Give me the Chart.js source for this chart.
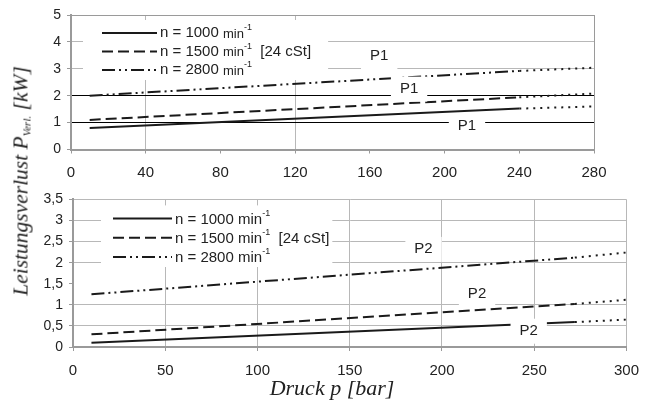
<!DOCTYPE html>
<html lang="de">
<head>
<meta charset="UTF-8">
<title>Leistungsverlust P1 / P2</title>
<script src="https://cdn.jsdelivr.net/npm/chart.js"></script>
<style>
    body { margin: 0; background: #fff; }
    #wrap { position: relative; width: 650px; height: 405px; overflow: hidden; }
    canvas { position: absolute; left: 0; }
    #topChart { top: 0; }
    #botChart { top: 185px; }
    .axis-title {
        position: absolute;
        font-family: 'Liberation Serif', 'DejaVu Serif', serif;
        font-style: italic;
        color: #222;
        white-space: nowrap;
    }
    #yTitle {
        left: 21px; top: 181px;
        font-size: 21.5px;
        transform: translate(-50%, -50%) rotate(-90deg);
    }
    #yTitle sub { font-size: 11px; vertical-align: -3px; }
    #xTitle {
        left: 332px; top: 388px;
        font-size: 22px;
        transform: translate(-50%, -50%);
    }
</style>
</head>
<body>
<div id="wrap">
    <canvas id="topChart" width="650" height="190"></canvas>
    <canvas id="botChart" width="650" height="220"></canvas>
    <div id="yTitle" class="axis-title">Leistungsverlust P<sub>Verl.</sub> [kW]</div>
    <div id="xTitle" class="axis-title">Druck p [bar]</div>
</div>

<script>
// series: last segment of every curve is drawn dotted (extrapolated)
const seriesLabels = ['n = 1000', 'n = 1500', 'n = 2800'];
const speedUnit = 'min';
const oilNote = '[24 cSt]';

// P1 (upper diagram)
const topPressure = [10, 240, 280];
const top1000 = [0.8, 1.52, 1.6];
const top1500 = [1.1, 1.94, 2.08];
const top2800 = [2.0, 2.92, 3.04];
const topLabelX = [165, 181, 212];
const topLabelY = [3.5, 2.3, 0.91];

// P2 (lower diagram)
const botPressure = [10, 272, 300];
const bot1000 = [0.1, 0.59, 0.65];
const bot1500 = [0.3, 1.02, 1.12];
const bot2800 = [1.25, 2.12, 2.24];
const botLabelX = [190, 219, 247];
const botLabelY = [2.35, 1.29, 0.41];

const FONT = "'Liberation Sans', Arial, sans-serif";
const INK = '#1a1a1a';
const GRID = '#b8b8b8';
const FRAME = '#9a9a9a';
const dashes = [[], [11, 5], [13, 4, 2, 4, 2, 4]];

function makeDatasets(pressure, curves) {
    return curves.map((vals, i) => ({
        label: seriesLabels[i],
        data: pressure.map((p, j) => ({ x: p, y: vals[j] })),
        borderColor: INK,
        borderWidth: 2,
        borderDash: dashes[i],
        borderCapStyle: 'butt',
        pointRadius: 0,
        tension: 0,
        segment: {
            borderDash: ctx => ctx.p0DataIndex === pressure.length - 2 ? [2, 5] : undefined
        }
    }));
}

function makeLabels(xs, ys, text) {
    return xs.map((x, i) => ({ x: x, y: ys[i], text: text }));
}

// legend box + P labels with white backgrounds
const overlay = {
    id: 'overlay',
    afterDatasetsDraw(chart, args, o) {
        const ctx = chart.ctx, a = chart.chartArea;
        const sx = chart.scales.x, sy = chart.scales.y;
        ctx.save();

        // legend
        const lg = o.legend;
        const x0 = a.left + lg.dx;
        const y0 = a.top + lg.dy;
        const n = chart.data.datasets.length;
        let maxEnd = 0;
        const entries = chart.data.datasets.map((ds, i) => {
            const parts = [[ds.label + ' ', lg.main, 0], [speedUnit, lg.unit, 0], ['-1', lg.sup, -5]];
            if (i === 1) parts.push(['  ' + oilNote, lg.main, 0]);
            let w = 0;
            parts.forEach(p => { ctx.font = p[1]; w += ctx.measureText(p[0]).width; });
            maxEnd = Math.max(maxEnd, x0 + lg.len + 3 + w);
            return parts;
        });
        ctx.fillStyle = '#fff';
        ctx.fillRect(x0 - lg.padL, y0 - 13, maxEnd + lg.padR - (x0 - lg.padL), (n - 1) * lg.gap + 23);

        chart.data.datasets.forEach((ds, i) => {
            const y = y0 + i * lg.gap;
            ctx.strokeStyle = INK;
            ctx.lineWidth = 2;
            ctx.setLineDash(ds.borderDash);
            ctx.beginPath();
            ctx.moveTo(x0, y);
            ctx.lineTo(x0 + lg.len, y);
            ctx.stroke();
            ctx.setLineDash([]);
            let tx = x0 + lg.len + 3;
            ctx.fillStyle = '#222';
            ctx.textAlign = 'left';
            ctx.textBaseline = 'middle';
            entries[i].forEach(p => {
                ctx.font = p[1];
                ctx.fillText(p[0], tx, y + p[2] + (p[2] === 0 && p[1] === lg.unit ? 1 : 0));
                tx += ctx.measureText(p[0]).width;
            });
        });

        // P1 / P2 markers
        ctx.font = '15px ' + FONT;
        ctx.textAlign = 'center';
        ctx.textBaseline = 'middle';
        o.labels.forEach(l => {
            const px = sx.getPixelForValue(l.x), py = sy.getPixelForValue(l.y);
            const w = ctx.measureText(l.text).width + 18;
            ctx.fillStyle = '#fff';
            ctx.fillRect(px - w / 2, py - 11, w, 25);
            ctx.fillStyle = '#222';
            ctx.fillText(l.text, px, py + 1);
        });
        ctx.restore();
    }
};

function axisOpts(cfg) {
    return {
        type: 'linear',
        min: cfg.min, max: cfg.max,
        border: { color: FRAME, width: 2 },
        grid: { color: cfg.gridColor, tickColor: FRAME, tickLength: 4, lineWidth: 1 },
        ticks: {
            stepSize: cfg.step,
            color: '#222',
            font: { family: FONT, size: cfg.fontSize },
            padding: cfg.pad,
            maxRotation: 0,
            autoSkip: false,
            callback: cfg.fmt
        },
        afterFit: cfg.fit
    };
}

const commaFmt = v => String(v).replace('.', ',');

// upper diagram P1
new Chart(document.getElementById('topChart'), {
    type: 'line',
    data: { datasets: makeDatasets(topPressure, [top1000, top1500, top2800]) },
    options: {
        responsive: false,
        animation: false,
        layout: { padding: { left: 0, top: 15, right: 56, bottom: 0 } },
        plugins: {
            legend: { display: false },
            tooltip: { enabled: false },
            overlay: {
                legend: { dx: 31, dy: 18, gap: 18.5, len: 55, padL: 19, padR: 17,
                          main: '15px ' + FONT, unit: '13px ' + FONT, sup: '9px ' + FONT },
                labels: makeLabels(topLabelX, topLabelY, 'P1')
            }
        },
        scales: {
            x: axisOpts({
                min: 0, max: 280, step: 40, fontSize: 15, pad: 10,
                gridColor: c => (c.tick.value === 40 || c.tick.value === 120) ? GRID
                    : (c.tick.value === 280 ? FRAME : 'rgba(0,0,0,0)'),
                fit: s => { s.height = 40.5; }
            }),
            y: axisOpts({
                min: 0, max: 5, step: 1, fontSize: 14, pad: 6,
                gridColor: c => (c.tick.value === 1 || c.tick.value === 2) ? '#000'
                    : (c.tick.value === 5 ? FRAME : GRID),
                fit: s => { s.width = 71; }
            })
        }
    },
    plugins: [overlay]
});

// lower diagram P2
new Chart(document.getElementById('botChart'), {
    type: 'line',
    data: { datasets: makeDatasets(botPressure, [bot1000, bot1500, bot2800]) },
    options: {
        responsive: false,
        animation: false,
        layout: { padding: { left: 0, top: 10, right: 17, bottom: 0 } },
        plugins: {
            legend: { display: false },
            tooltip: { enabled: false },
            overlay: {
                legend: { dx: 40, dy: 19, gap: 19.3, len: 59, padL: 12, padR: 3,
                          main: '15px ' + FONT, unit: '15px ' + FONT, sup: '9px ' + FONT },
                labels: makeLabels(botLabelX, botLabelY, 'P2')
            }
        },
        scales: {
            x: axisOpts({
                min: 0, max: 300, step: 50, fontSize: 15, pad: 11,
                gridColor: GRID,
                fit: s => { s.height = 58; }
            }),
            y: axisOpts({
                min: 0, max: 3.5, step: 0.5, fontSize: 14, pad: 6, fmt: commaFmt,
                gridColor: c => c.tick.value === 1.5 ? 'rgba(0,0,0,0)' : GRID,
                fit: s => { s.width = 73; }
            })
        }
    },
    plugins: [overlay]
});
</script>
</body>
</html>
